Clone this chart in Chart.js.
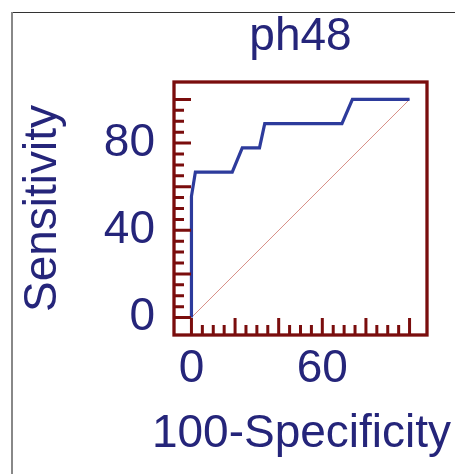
<!DOCTYPE html>
<html>
<head>
<meta charset="utf-8">
<script src="https://cdn.jsdelivr.net/npm/chart.js@4"></script>
<style>
  body { margin: 0; background: #fff; }
  canvas { display: block; }
</style>
</head>
<body>
<canvas id="roc" width="455" height="474"></canvas>
<script>
// ROC curve points
const fpr = [0, 0, 1.8, 18.7, 23.3, 31.2, 33.6, 69.0, 73.8, 100];
const tpr = [0, 55.6, 66.7, 66.7, 77.8, 77.8, 88.9, 88.9, 100, 100];
const refX = [0, 100];
const refY = [0, 100];
const xTicks = [0, 60];
const yTicks = [0, 40, 80];

const textColor = '#25257a';
const frameColor = '#7a0d0d';
const fontFamily = '"Liberation Sans", Arial, sans-serif';

// outer grey box, red frame with inward ticks, and x title (too wide for the scale's own title)
const framePlugin = {
    id: 'framePlugin',
    beforeDraw(chart) {
        const ctx = chart.ctx;
        ctx.save();
        ctx.fillStyle = '#fff';
        ctx.fillRect(0, 0, chart.width, chart.height);
        ctx.strokeStyle = '#333';
        ctx.lineWidth = 1;
        ctx.beginPath();
        ctx.moveTo(12, 12.5);
        ctx.lineTo(chart.width, 12.5);
        ctx.stroke();
        ctx.strokeStyle = '#888';
        ctx.lineWidth = 2;
        ctx.beginPath();
        ctx.moveTo(12, 12);
        ctx.lineTo(12, chart.height);
        ctx.stroke();
        ctx.restore();
    },
    afterDraw(chart) {
        const { ctx, chartArea: a, scales: { x, y } } = chart;
        ctx.save();
        ctx.strokeStyle = frameColor;
        ctx.lineWidth = 3.3;
        ctx.strokeRect(a.left, a.top, a.right - a.left, a.bottom - a.top);
        ctx.lineWidth = 3;
        for (let v = 0; v <= 100; v += 5) {
            const len = v % 20 === 0 ? 17 : 10;
            const px = x.getPixelForValue(v);
            const py = y.getPixelForValue(v);
            ctx.beginPath();
            ctx.moveTo(px, a.bottom);
            ctx.lineTo(px, a.bottom - len);
            ctx.moveTo(a.left, py);
            ctx.lineTo(a.left + len, py);
            ctx.stroke();
        }
        ctx.fillStyle = textColor;
        ctx.font = '46px ' + fontFamily;
        ctx.textAlign = 'center';
        ctx.textBaseline = 'middle';
        ctx.fillText('100-Specificity', (a.left + a.right) / 2 + 1, 434);
        ctx.restore();
    }
};

new Chart(document.getElementById('roc'), {
    type: 'scatter',
    data: {
        datasets: [{
            data: fpr.map((v, i) => ({ x: v, y: tpr[i] })),
            showLine: true,
            borderColor: '#2d3b9c',
            borderWidth: 3.2,
            pointRadius: 0,
            tension: 0
        }, {
            data: refX.map((v, i) => ({ x: v, y: refY[i] })),
            showLine: true,
            borderColor: '#d99088',
            borderWidth: 1,
            pointRadius: 0
        }]
    },
    options: {
        responsive: false,
        animation: false,
        layout: { padding: { left: 0, top: 0, right: 28, bottom: 0 } },
        plugins: {
            legend: { display: false },
            tooltip: { enabled: false },
            title: {
                display: true,
                text: 'ph48',
                fullSize: false,
                color: textColor,
                font: { family: fontFamily, size: 46, weight: 'normal', lineHeight: 1.2 },
                padding: { top: 10, bottom: 16.8 }
            }
        },
        scales: {
            x: {
                type: 'linear',
                min: -8,
                max: 108,
                grid: { display: false, drawTicks: false },
                border: { display: false },
                afterBuildTicks: (scale) => { scale.ticks = xTicks.map(v => ({ value: v })); },
                afterFit: (scale) => { scale.height = 139; },
                ticks: {
                    color: textColor,
                    padding: 6.4,
                    maxRotation: 0,
                    font: { family: fontFamily, size: 46, lineHeight: 1.2 }
                }
            },
            y: {
                type: 'linear',
                min: -8,
                max: 108,
                grid: { display: false, drawTicks: false },
                border: { display: false },
                afterBuildTicks: (scale) => { scale.ticks = yTicks.map(v => ({ value: v })); },
                afterFit: (scale) => { scale.width = 174; },
                ticks: {
                    color: textColor,
                    padding: 19,
                    font: { family: fontFamily, size: 46, lineHeight: 1.2 }
                },
                title: {
                    display: true,
                    text: 'Sensitivity',
                    color: textColor,
                    padding: { top: 16, bottom: 0 },
                    font: { family: fontFamily, size: 46, lineHeight: 1.2 }
                }
            }
        }
    },
    plugins: [framePlugin]
});
</script>
</body>
</html>
